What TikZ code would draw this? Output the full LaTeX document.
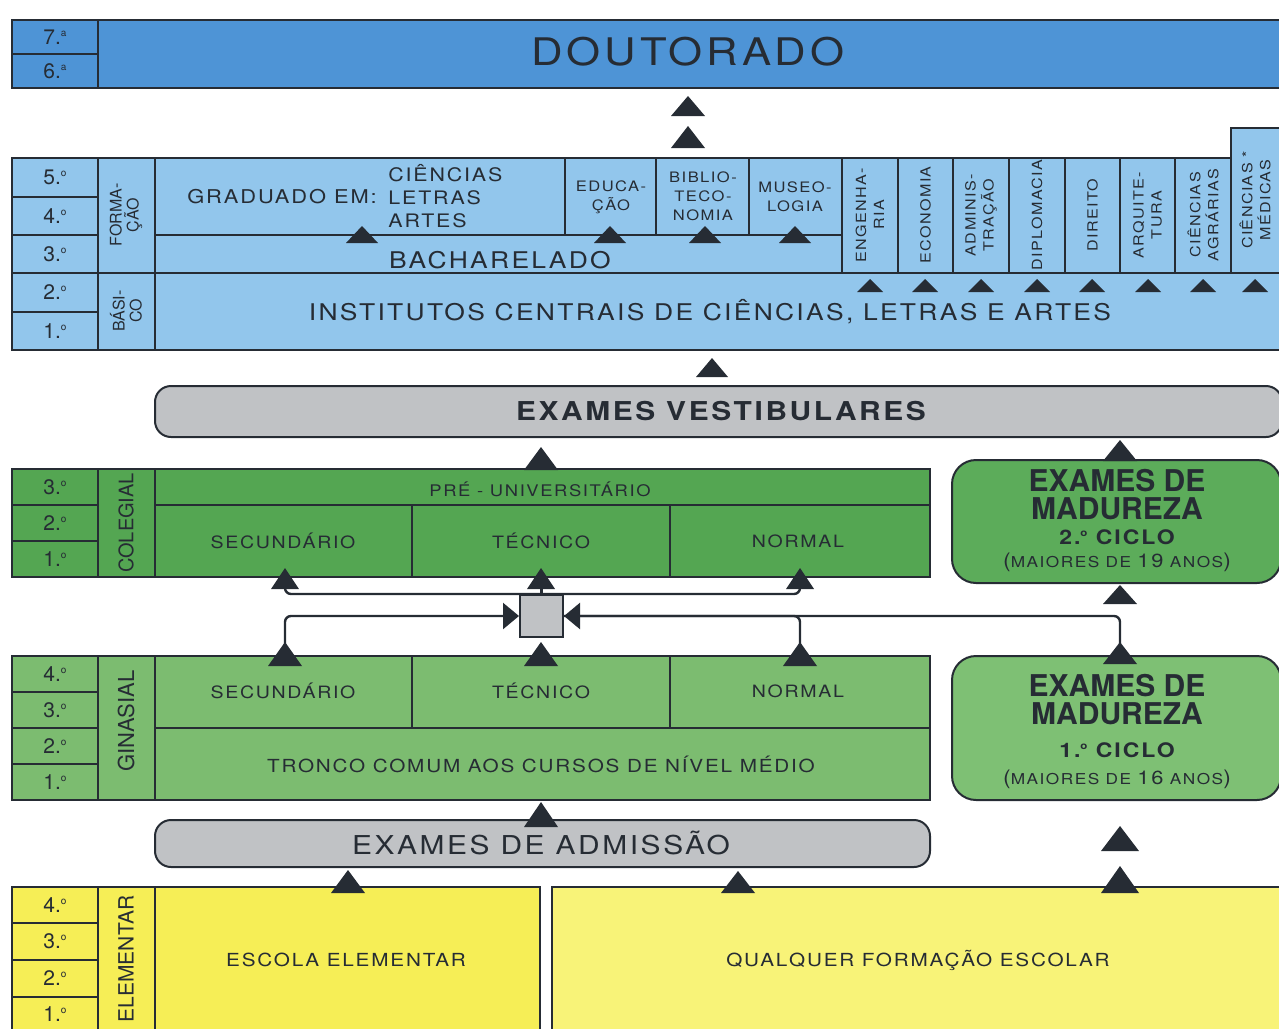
\documentclass[tikz,border=0pt]{standalone}
\usepackage{fontspec}
\setmainfont{TeX Gyre Heros}
\newfontfamily\largo[FakeStretch=1.15,LetterSpace=10]{TeX Gyre Heros}
\usetikzlibrary{arrows.meta}

\definecolor{doutblue}{RGB}{78,148,214}
\definecolor{univblue}{RGB}{146,198,236}
\definecolor{examgray}{RGB}{192,194,197}
\definecolor{colgreen}{RGB}{84,166,82}
\definecolor{gingreen}{RGB}{124,188,112}
\definecolor{madtwo}{RGB}{92,172,90}
\definecolor{madone}{RGB}{126,192,116}
\definecolor{elemyellow}{RGB}{246,238,86}
\definecolor{qualyellow}{RGB}{248,243,120}
\definecolor{ink}{RGB}{38,44,52}

% triangulo: x, ponta, base, meia largura
\newcommand{\seta}[4]{\fill[ink] (#1-#4,#3) -- (#1+#4,#3) -- (#1,#2) -- cycle;}
% ordinal pequeno
\newcommand{\ordi}[1]{.\raisebox{0.7ex}{\fontsize{5}{5}\selectfont #1}}

\tikzset{
	lbl/.style={text=ink, inner sep=0pt, align=center},
	yr/.style={lbl, font=\fontsize{10.5}{12}\selectfont},
	vert/.style={lbl, rotate=90},
	grid/.style={draw=ink, line width=1pt},
	conn/.style={draw=ink, line width=1.2pt, rounded corners=3pt},
	madfont/.style={lbl, font=\bfseries\fontsize{15}{14}\selectfont}
}

\begin{document}
\begin{tikzpicture}[x=0.5pt,y=-0.5pt]
	\useasboundingbox (0,0) rectangle (1279,1028);
	\clip (0,0) rectangle (1279,1028);
	% doutorado
	\draw[grid,fill=doutblue](12,20) rectangle (1290,88);
	\draw[grid](98,20)--(98,88) (12,54)--(98,54);
	\node[yr] (d7) at (55,37) {7\ordi{a}};
	\node[yr] (d6) at (55,71) {6\ordi{a}};
	\node[lbl,font=\largo\fontsize{19}{22}\selectfont] (dout) at (688,52) {DOUTORADO};
	% universidade
	\draw[grid,fill=univblue](12,158) rectangle (1290,350);
	\draw[grid,fill=univblue](1231,128) rectangle (1290,273);
	\draw[grid](98,158)--(98,350) (155,158)--(155,350) (12,273)--(1290,273) (155,235)--(842,235);
	\draw[grid] \foreach \y in {197,235,312} {(12,\y)--(98,\y)};
	\draw[grid] \foreach \x in {565,656,749} {(\x,158)--(\x,235)};
	\draw[grid] \foreach \x in {842,898,953,1009,1065,1120,1175} {(\x,158)--(\x,273)};
	\foreach \n/\y in {5/177,4/216,3/254,2/292,1/331}
		\node[yr] (u\n) at (55,\y) {\n\ordi{o}};
	\node[vert,font=\fontsize{8}{8.5}\selectfont] (forma) at (126,215) {FORMA-\\ÇÃO};
	\node[vert,font=\fontsize{8}{8.5}\selectfont] (basico) at (126,311) {BÁSI-\\CO};
	\node[lbl,font=\largo\fontsize{9.5}{11.5}\selectfont] (grad) at (282,197) {GRADUADO EM:};
	\node[lbl,anchor=west,align=left,font=\largo\fontsize{9.3}{11.5}\selectfont] (cla) at (388,196) {CIÊNCIAS\\LETRAS\\ARTES};
	\node[lbl,font=\largo\fontsize{7.2}{9.5}\selectfont] (edu) at (611,197) {EDUCA-\\ÇÃO};
	\node[lbl,font=\largo\fontsize{7.2}{9.5}\selectfont] (biblio) at (703,196) {BIBLIO-\\TECO-\\NOMIA};
	\node[lbl,font=\largo\fontsize{7.2}{9.5}\selectfont] (museo) at (795,197) {MUSEO-\\LOGIA};
	\node[lbl,font=\largo\fontsize{11.5}{13}\selectfont] (bach) at (500,260) {BACHARELADO};
	\foreach \x/\t [count=\i] in {870/ENGENHA-\\RIA,925.5/ECONOMIA,981/ADMINIS-\\TRAÇÃO,1037/DIPLOMACIA,1092.5/DIREITO,1147.5/ARQUITE-\\TURA,1203/CIÊNCIAS\\AGRÁRIAS}
		\node[vert,font=\largo\fontsize{7}{9}\selectfont] (prof\i) at (\x,215) {\t};
	\node[vert,font=\largo\fontsize{7}{9}\selectfont] (medicas) at (1255,200) {CIÊNCIAS *\\MÉDICAS};
	\node[lbl,font=\largo\fontsize{11.5}{13}\selectfont] (inst) at (710,312) {INSTITUTOS CENTRAIS DE CIÊNCIAS, LETRAS E ARTES};
	% vestibulares
	\draw[grid,fill=examgray,rounded corners=8pt](155,386) rectangle (1282,437);
	\node[lbl,font=\largo\bfseries\fontsize{13}{15}\selectfont] (vest) at (721,411) {EXAMES VESTIBULARES};
	% colegial
	\draw[grid,fill=colgreen](12,469) rectangle (930,577);
	\draw[grid](98,469)--(98,577) (155,469)--(155,577) (12,505)--(98,505) (12,541)--(98,541);
	\draw[grid](155,505)--(930,505) (412,505)--(412,577) (670,505)--(670,577);
	\foreach \n/\y in {3/487,2/523,1/559}
		\node[yr] (c\n) at (55,\y) {\n\ordi{o}};
	\node[vert,font=\fontsize{10}{12}\selectfont] (coleg) at (126,523) {COLEGIAL};
	\node[lbl,font=\largo\fontsize{8}{10}\selectfont] (preuni) at (540,489) {PRÉ - UNIVERSITÁRIO};
	\node[lbl,font=\largo\fontsize{8.5}{10}\selectfont] (csecund) at (283,541) {SECUNDÁRIO};
	\node[lbl,font=\largo\fontsize{8.5}{10}\selectfont] (ctecn) at (541,541) {TÉCNICO};
	\node[lbl,font=\largo\fontsize{8.5}{10}\selectfont] (cnormal) at (798,541) {NORMAL};
	% madureza 2
	\draw[grid,fill=madtwo,rounded corners=12pt](952,460) rectangle (1281,583);
	\node[madfont] (madb) at (1117,495) {EXAMES DE\\MADUREZA};
	\node[lbl,font=\largo\bfseries\fontsize{10}{12}\selectfont] (ciclob) at (1117,537) {2\ordi{o} CICLO};
	\node[lbl,font=\largo\fontsize{7.5}{9}\selectfont] (idadeb) at (1117,562) {{\fontsize{10}{12}\selectfont(}MAIORES DE {\fontsize{9.5}{12}\selectfont 19} ANOS{\fontsize{10}{12}\selectfont)}};
	% ginasial
	\draw[grid,fill=gingreen](12,656) rectangle (930,800);
	\draw[grid](98,656)--(98,800) (155,656)--(155,800) (155,728)--(930,728) (412,656)--(412,728) (670,656)--(670,728);
	\draw[grid] \foreach \y in {692,728,764} {(12,\y)--(98,\y)};
	\foreach \n/\y in {4/674,3/710,2/746,1/782}
		\node[yr] (g\n) at (55,\y) {\n\ordi{o}};
	\node[vert,font=\fontsize{11}{12}\selectfont] (ginas) at (126,721) {GINASIAL};
	\node[lbl,font=\largo\fontsize{8.5}{10}\selectfont] (gsecund) at (283,691) {SECUNDÁRIO};
	\node[lbl,font=\largo\fontsize{8.5}{10}\selectfont] (gtecn) at (541,691) {TÉCNICO};
	\node[lbl,font=\largo\fontsize{8.5}{10}\selectfont] (gnormal) at (798,691) {NORMAL};
	\node[lbl,font=\largo\fontsize{9}{10}\selectfont] (tronco) at (541,764) {TRONCO COMUM AOS CURSOS DE NÍVEL MÉDIO};
	% madureza 1
	\draw[grid,fill=madone,rounded corners=12pt](952,656) rectangle (1281,800);
	\node[madfont] (mada) at (1117,700) {EXAMES DE\\MADUREZA};
	\node[lbl,font=\largo\bfseries\fontsize{10}{12}\selectfont] (cicloa) at (1117,750) {1\ordi{o} CICLO};
	\node[lbl,font=\largo\fontsize{7.5}{9}\selectfont] (idadea) at (1117,779) {{\fontsize{10}{12}\selectfont(}MAIORES DE {\fontsize{9.5}{12}\selectfont 16} ANOS{\fontsize{10}{12}\selectfont)}};
	% admissao
	\draw[grid,fill=examgray,rounded corners=8pt](155,820) rectangle (930,867);
	\node[lbl,font=\largo\fontsize{13}{15}\selectfont] (admis) at (541,843) {EXAMES DE ADMISSÃO};
	% elementar
	\draw[grid,fill=elemyellow](12,887) rectangle (540,1040);
	\draw[grid](98,887)--(98,1040) (155,887)--(155,1040);
	\draw[grid] \foreach \y in {923,960,997} {(12,\y)--(98,\y)};
	\draw[grid,fill=qualyellow](552,887) rectangle (1290,1040);
	\foreach \n/\y in {4/905,3/941,2/978,1/1014}
		\node[yr] (e\n) at (55,\y) {\n\ordi{o}};
	\node[vert,font=\fontsize{10.5}{12}\selectfont] (elem) at (126,959) {ELEMENTAR};
	\node[lbl,font=\largo\fontsize{9}{10}\selectfont] (escola) at (346,960) {ESCOLA ELEMENTAR};
	\node[lbl,font=\largo\fontsize{9}{10}\selectfont] (qualq) at (918,960) {QUALQUER FORMAÇÃO ESCOLAR};
	% ligacoes
	\node[draw=ink,fill=examgray,line width=1pt,minimum width=21.5pt,minimum height=21pt,inner sep=0pt] (hub) at (541.5,616) {};
	\coordinate (csec) at (285,588);
	\coordinate (ctec) at (541.5,588);
	\coordinate (cnor) at (800,588);
	\coordinate (gsec) at (285,648);
	\coordinate (gnor) at (800,648);
	\coordinate (mtop) at (1120,648);
	\draw[conn](csec) |- (hub.north) -| (cnor);
	\draw[conn](ctec) -- (hub.north);
	\draw[conn,-{Triangle[length=8pt,width=13pt]}](gsec) |- (hub.west);
	\draw[conn](gnor) |- (hub.east);
	\draw[conn,-{Triangle[length=8pt,width=13pt]}](mtop) |- (hub.east);
	% setas
	\seta{688}{96}{116}{17}
	\seta{688}{126}{148}{17}
	\foreach \x in {362,610,705,795} {\seta{\x}{226}{243}{16}}
	\foreach \x in {870,925,981,1037,1092,1148,1203,1255} {\seta{\x}{279}{292}{13}}
	\seta{712}{358}{377}{16}
	\seta{541}{447}{470}{17}
	\seta{1120}{440}{461}{17}
	\foreach \x in {285,541,800} {\seta{\x}{568}{589}{14}}
	\seta{1120}{585}{604}{17}
	\foreach \x in {285,541,800} {\seta{\x}{642}{666}{17}}
	\seta{1120}{642}{664}{17}
	\seta{541}{802}{827}{17}
	\seta{348}{870}{893}{17}
	\seta{738}{871}{893}{17}
	\seta{1120}{826}{851}{19}
	\seta{1120}{866}{893}{19}
\end{tikzpicture}
\end{document}
